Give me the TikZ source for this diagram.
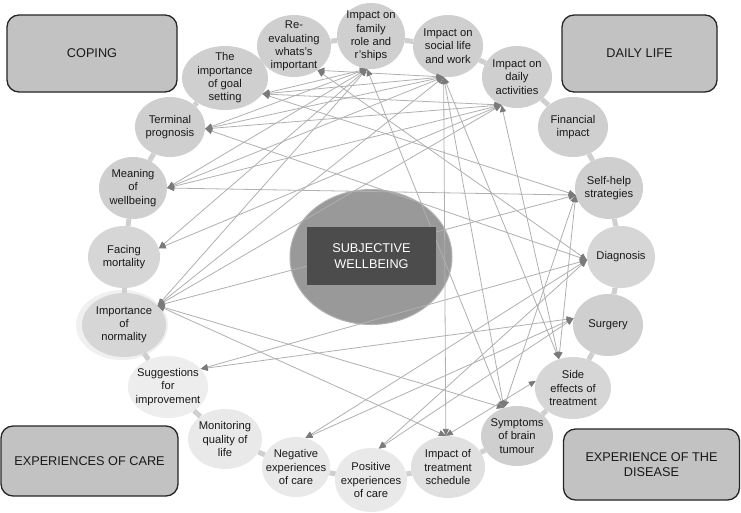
\documentclass[tikz,border=0pt]{standalone}
\usepackage{fontspec}
\setmainfont{Liberation Sans}
\usetikzlibrary{shapes.geometric,arrows.meta}
\begin{document}
\begin{tikzpicture}[x=1pt,y=-1pt,
  ell/.style={ellipse, draw=none, fill=gray!38, inner sep=0pt},
  lite/.style={fill=gray!17},
  txt/.style={font=\fontsize{11.2}{13.3}\selectfont, align=center, text=black!90},
  cat/.style={draw=black!85, line width=1.3pt, rounded corners=12pt, fill=gray!48,
    font=\fontsize{12.7}{15}\selectfont, align=center, text=black!90},
  chainbar/.style={draw=gray!38, line width=5pt},
  conn/.style={draw=gray!62, line width=0.8pt,
    {Triangle[length=7pt,width=6pt,color=black!52]}-{Triangle[length=7pt,width=6pt,color=black!52]}}
]
\useasboundingbox (0,0) rectangle (741,512);
\fill[white] (0,0) rectangle (741,512);

% category boxes
\node[cat, minimum width=170pt, minimum height=77pt] (coping) at (92,53.5) {COPING};
\node[cat, minimum width=155pt, minimum height=77pt] (daily) at (639.5,53.5) {DAILY LIFE};
\node[cat, minimum width=177pt, minimum height=70pt] (care) at (89.5,461) {EXPERIENCES OF CARE};
\node[cat, minimum width=176pt, minimum height=71pt] (disease) at (651.5,464.5) {EXPERIENCE OF THE\\DISEASE};

% central ellipse
\node[ellipse, fill=gray!80, draw=gray!60, line width=1pt, minimum width=162pt, minimum height=135pt, inner sep=0pt] (sw) at (371,257) {};

% glow around normality
\node[ellipse, fill=gray!12, minimum width=92pt, minimum height=70pt, inner sep=0pt] (norglow) at (122,325) {};

% outer nodes
\node[ell, minimum width=74pt, minimum height=62pt, label={[txt]center:{Re-\\evaluating\\whats's\\important}}] (re) at (294,46) {};
\node[ell, minimum width=68pt, minimum height=66pt, label={[txt]center:{Impact on\\family\\role and\\r'ships}}] (fam) at (371,36) {};
\node[ell, minimum width=70pt, minimum height=62pt, label={[txt]center:{Impact on\\social life\\and work}}] (soc) at (448,46) {};
\node[ell, minimum width=70pt, minimum height=62pt, label={[txt]center:{Impact on\\daily\\activities}}] (dai) at (517,77) {};
\node[ell, minimum width=70pt, minimum height=60pt, label={[txt]center:{Financial\\impact}}] (fin) at (573,127) {};
\node[ell, minimum width=68pt, minimum height=62pt, label={[txt]center:{Self-help\\strategies}}] (sh) at (609,188) {};
\node[ell, fill=gray!32, minimum width=68pt, minimum height=62pt, label={[txt]center:{Diagnosis}}] (dia) at (621,257) {};
\node[ell, minimum width=70pt, minimum height=62pt, label={[txt]center:{Surgery}}] (sur) at (608,325) {};
\node[ell, fill=gray!32, minimum width=76pt, minimum height=62pt, label={[txt]center:{Side\\effects of\\treatment}}] (se) at (573,388) {};
\node[ell, minimum width=72pt, minimum height=60pt, label={[txt]center:{Symptoms\\of brain\\tumour}}] (sym) at (517,436) {};
\node[ell, fill=gray!24, minimum width=74pt, minimum height=62pt, label={[txt]center:{Impact of\\treatment\\schedule}}] (its) at (448,467) {};
\node[ell, lite, minimum width=72pt, minimum height=64pt, label={[txt]center:{Positive\\experiences\\of care}}] (pos) at (371,480) {};
\node[ell, lite, minimum width=68pt, minimum height=60pt, label={[txt]center:{Negative\\experiences\\of care}}] (neg) at (296,467) {};
\node[ell, lite, minimum width=74pt, minimum height=60pt, label={[txt]center:{Monitoring\\quality of\\life}}] (mon) at (225,439) {};
\node[ell, fill=gray!14, minimum width=80pt, minimum height=62pt, label={[txt]center:{Suggestions\\for\\improvement}}] (sug) at (168,387) {};
\node[ell, fill=gray!32, minimum width=84pt, minimum height=64pt, label={[txt]center:{Importance\\of\\normality}}] (nor) at (124,325) {};
\node[ell, fill=gray!32, minimum width=72pt, minimum height=62pt, label={[txt]center:{Facing\\mortality}}] (fac) at (124,257) {};
\node[ell, minimum width=68pt, minimum height=62pt, label={[txt]center:{Meaning\\of\\wellbeing}}] (mea) at (133,188) {};
\node[ell, minimum width=70pt, minimum height=60pt, label={[txt]center:{Terminal\\prognosis}}] (ter) at (170,127) {};
\node[ell, minimum width=86pt, minimum height=64pt, label={[txt]center:{The\\importance\\of goal\\setting}}] (goal) at (225,78) {};

% chain links between neighbours
\foreach \a/\b in {re/fam,fam/soc,soc/dai,dai/fin,fin/sh,sh/dia,dia/sur,sur/se,se/sym,sym/its,its/pos,pos/neg,neg/mon,mon/sug,sug/nor,nor/fac,fac/mea,mea/ter,ter/goal}
  \draw[chainbar] (\a) -- (\b);

% connectors
\draw[conn] (re.-46) -- (soc.-98);
\draw[conn] (re.-46) -- (dia.185);
\draw[conn] (goal.-23) -- (fam.-97);
\draw[conn] (goal.-23) -- (soc.-98);
\draw[conn] (goal.-23) -- (dai.-119);
\draw[conn] (goal.-23) -- (sh.192);
\draw[conn] (ter.-3) -- (fam.-97);
\draw[conn] (ter.-3) -- (soc.-98);
\draw[conn] (ter.-3) -- (dai.-119);
\draw[conn] (ter.-3) -- (dia.185);
\draw[conn] (mea.0) -- (fam.-97);
\draw[conn] (mea.0) -- (soc.-98);
\draw[conn] (mea.0) -- (dai.-119);
\draw[conn] (mea.0) -- (sh.192);
\draw[conn] (fac.14) -- (fam.-97);
\draw[conn] (fac.14) -- (dai.-119);
\draw[conn] (nor.30) -- (fam.-97);
\draw[conn] (nor.30) -- (soc.-98);
\draw[conn] (nor.30) -- (dai.-119);
\draw[conn] (nor.30) -- (sh.192);
\draw[conn] (nor.30) -- (sym.115);
\draw[conn] (nor.30) -- (its.94);
\draw[conn] (sug.29) -- (dia.185);
\draw[conn] (sug.29) -- (sur.169);
\draw[conn] (neg.72) -- (dia.185);
\draw[conn] (neg.72) -- (sur.169);
\draw[conn] (pos.76) -- (dia.185);
\draw[conn] (pos.76) -- (sur.169);
\draw[conn] (its.94) -- (soc.-98);
\draw[conn] (its.94) -- (se.169);
\draw[conn] (sym.115) -- (soc.-98);
\draw[conn] (sym.115) -- (fam.-97);
\draw[conn] (sym.115) -- (sh.192);
\draw[conn] (se.116) -- (soc.-98);
\draw[conn] (se.116) -- (dai.-119);
\draw[conn] (se.116) -- (sh.192);

% central box
\node[rectangle, fill=black!70, minimum width=129pt, minimum height=58pt, inner sep=0pt,
  text=white, font=\fontsize{12.7}{16}\selectfont, align=center] (swbox) at (371.5,256) {SUBJECTIVE\\WELLBEING};
\end{tikzpicture}
\end{document}
